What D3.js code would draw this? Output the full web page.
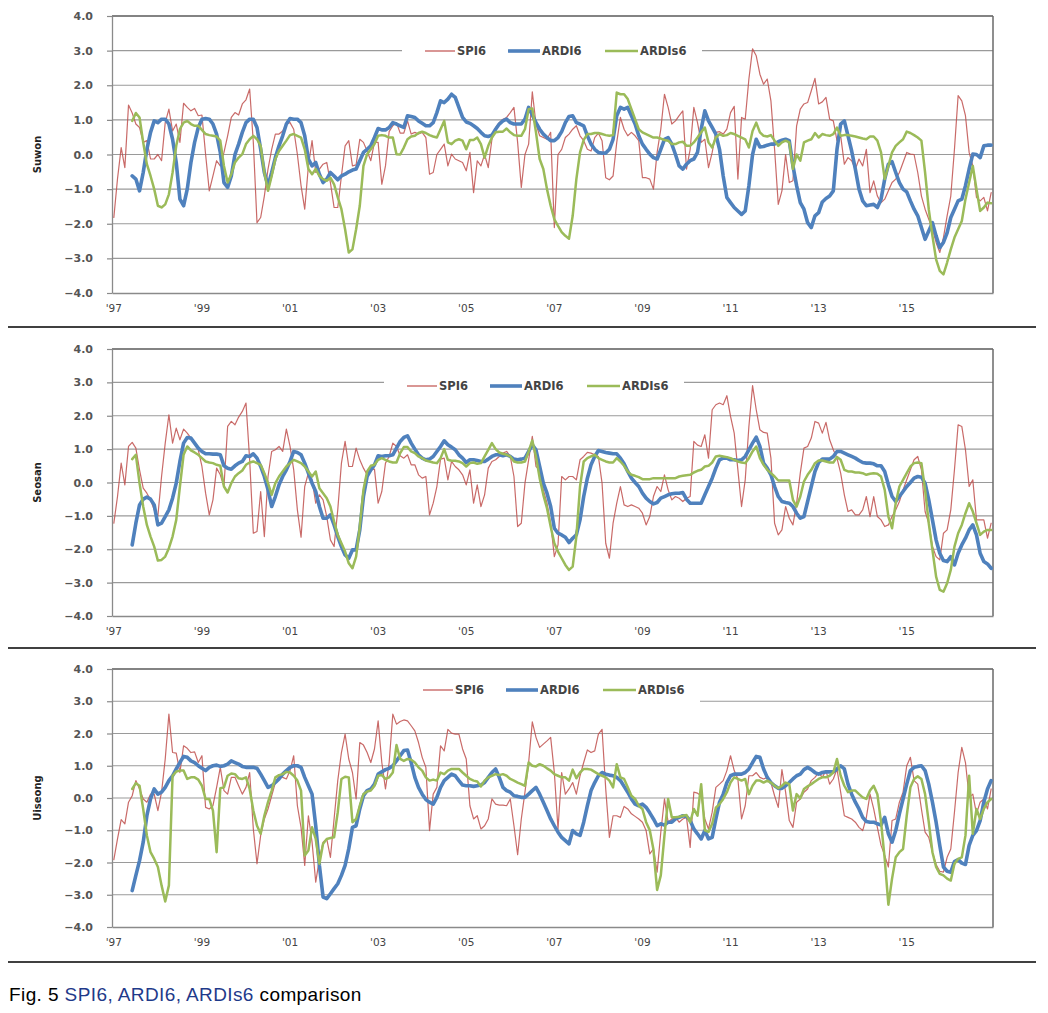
<!DOCTYPE html>
<html><head><meta charset="utf-8">
<script src="https://cdn.jsdelivr.net/npm/d3@7"></script>
<style>body{margin:0;background:#fff} svg{display:block}</style>
</head><body>
<svg id="c" width="1048" height="1013"></svg>
<script>
// ---------- DATA ----------
const stations = ["Suwon", "Seosan", "Uiseong"];
const seriesNames = ["SPI6", "ARDI6", "ARDIs6"];
const yTicks = [-4, -3, -2, -1, 0, 1, 2, 3, 4];
const xTickLabels = ["'97", "'99", "'01", "'03", "'05", "'07", "'09", "'11", "'13", "'15"];
const N = null;

// Monthly values, Jan 1997 – Dec 2016 (one row per year)
const suwonSPI6 = [
-1.82,-0.7,0.2,-0.38,1.43,1.2,0.88,0.78,0.35,0.4,-0.13,-0.13,
0,-0.18,0.92,1.31,0.68,0.88,0.35,1.48,1.36,1.26,1.33,1.12,
1.14,0,-1.05,-0.62,-0.18,-0.33,0.06,0.54,1.07,1.21,1.14,1.46,
1.58,1.89,0.35,-1.97,-1.82,-1.2,-0.42,0.15,0.59,0.59,0.68,0.88,
0.92,0.73,0,-0.9,-1.58,-0.33,0.4,-0.52,-0.42,-0.28,-0.23,-0.81,
-1.53,-1.53,-0.62,0.25,0.4,-0.33,-0.3,0.44,0.35,0.1,-0.18,0.35,
0.35,-0.86,-0.33,0.66,0.83,0.92,0.62,0.62,0.97,0.59,0.64,0.59,
0.64,0.49,-0.57,-0.52,0,0.15,0.3,-0.33,0.01,-0.13,-0.18,-0.23,
-0.47,0.06,-1.1,-0.18,-0.33,0,-0.38,0.44,0.78,0.92,1.02,1.07,
1.21,1.36,0.35,-0.95,0,0.3,1.81,0.88,0.54,0.49,0.44,0.64,
-2.11,0,0.15,0.49,0.59,0.73,0.83,0.54,0.4,0.15,0.1,0.49,
0.62,0.4,-0.67,-0.73,-0.62,0.35,1.07,0.73,0.54,0.64,0.54,0.4,
-0.67,-0.67,-0.71,-1.0,0.06,0.73,1.74,1.36,0.88,0.97,1.12,1.26,
-0.42,0.15,1.36,0.92,0.35,0.44,-0.38,0.06,0.64,0.66,0.59,0.73,
1.21,1.39,-0.71,1.07,1.02,2.18,3.05,2.85,2.32,2.03,2.18,1.55,
0.15,-1.44,-1.05,0,-0.81,-0.76,0.83,1.31,1.46,1.5,1.84,2.2,
1.46,1.52,1.65,1.02,0.97,0.4,0.54,-0.28,-0.09,-0.18,-0.42,-0.13,
-0.33,0.15,-1.1,-0.76,-1.2,-1.39,-1.29,-1.05,-0.81,-0.71,-0.52,-0.23,
0.06,0.01,0,-0.52,-1.2,-1.58,-1.87,-2.16,-2.54,-2.83,-2.4,-1.77,
-1.2,0.15,1.7,1.55,1.12,0.06,-0.33,-1.24,-1.34,-1.24,-1.63,-1.1];

const suwonARDI6 = [
N,N,N,N,N,-0.62,-0.71,-1.05,-0.52,0.15,0.64,0.97,
0.92,1.02,1.02,0.88,0.44,-0.23,-1.29,-1.48,-1.0,-0.23,0.35,0.78,
1.02,1.04,1.02,0.88,0.59,0.06,-0.81,-0.95,-0.62,0,0.3,0.64,
0.92,1.02,1.02,0.78,0.15,-0.52,-0.9,-0.52,-0.09,0.25,0.54,0.88,
1.04,1.02,1.02,0.92,0.54,-0.13,-0.33,-0.23,-0.57,-0.81,-0.71,-0.52,
-0.62,-0.73,-0.62,-0.57,-0.5,-0.45,-0.42,-0.18,0.06,0.15,0.25,0.49,
0.75,0.71,0.71,0.78,0.92,0.88,0.83,0.78,1.12,1.1,1.07,0.97,
0.9,0.83,0.83,0.92,1.21,1.55,1.5,1.6,1.74,1.65,1.36,1.07,
0.94,0.9,0.83,0.75,0.64,0.54,0.52,0.56,0.73,0.88,0.97,1.02,
0.92,0.88,0.88,0.88,1.02,1.36,1.14,0.92,0.73,0.59,0.49,0.4,
0.4,0.49,0.66,0.92,1.1,1.12,0.92,0.88,0.83,0.54,0.3,0.15,
0.06,0.04,0.04,0.15,0.44,1.12,1.36,1.31,1.36,1.12,0.88,0.54,
0.3,0.15,0.01,-0.09,-0.13,0.15,0.44,0.49,0.3,0,-0.33,-0.42,
-0.28,-0.18,-0.13,0.06,0.73,1.26,0.97,0.78,0.59,0.15,-0.62,-1.24,
-1.39,-1.53,-1.63,-1.73,-1.63,-0.9,0,0.44,0.22,0.23,0.27,0.3,
0.3,0.37,0.41,0.44,0.4,-0.33,-0.9,-1.39,-1.58,-1.97,-2.11,-1.77,
-1.68,-1.37,-1.27,-1.2,-1.05,0.15,0.88,0.97,0.54,0.1,-0.42,-1.0,
-1.34,-1.48,-1.46,-1.44,-1.53,-1.29,-0.71,-0.28,-0.21,-0.52,-0.81,-1.0,
-1.08,-1.34,-1.58,-1.77,-2.11,-2.45,-2.21,-1.97,-2.35,-2.69,-2.54,-2.26,
-1.82,-1.58,-1.34,-1.29,-0.9,-0.42,0.01,0,-0.09,0.25,0.27,0.27];

const suwonARDIs6 = [
N,N,N,N,N,0.97,1.2,1.07,0.35,-0.28,-0.62,-1.0,
-1.48,-1.53,-1.44,-1.15,-0.52,0.25,0.73,0.92,0.97,0.88,0.83,0.83,
0.71,0.59,0.56,0.54,0.52,0.4,-0.33,-0.81,-0.57,-0.23,-0.09,0.01,
0.3,0.44,0.54,0.44,0.25,-0.52,-1.05,-0.62,-0.13,0.1,0.25,0.4,
0.56,0.59,0.54,0.49,0.15,-0.42,-0.57,-0.42,-0.62,-0.71,-0.76,-0.67,
-0.86,-1.24,-1.58,-2.16,-2.83,-2.74,-2.16,-1.48,-0.33,0.01,0.15,0.3,
0.54,0.56,0.54,0.49,0.49,0.01,0,0.2,0.44,0.52,0.54,0.62,
0.66,0.62,0.56,0.52,0.49,0.73,0.97,0.35,0.3,0.4,0.44,0.4,
0.15,0.42,0.42,0.49,0.3,-0.09,0.25,0.49,0.64,0.66,0.66,0.75,
0.64,0.56,0.54,0.54,0.73,1.31,1.33,0.64,-0.13,-0.42,-1.0,-1.48,
-1.87,-2.06,-2.24,-2.35,-2.43,-1.77,-0.71,0.06,0.42,0.59,0.59,0.62,
0.62,0.59,0.56,0.54,0.56,1.79,1.74,1.74,1.6,1.31,1.02,0.73,
0.64,0.59,0.54,0.49,0.49,0.46,0.42,0.4,0.3,0.3,0.35,0.37,
0.25,0.25,0.35,0.49,0.64,0.78,0.35,0.2,0.49,0.59,0.54,0.56,
0.62,0.59,0.54,0.49,0.44,0.2,0.68,0.92,0.64,0.54,0.52,0.56,
0.4,0.25,0.35,0.4,0.35,-0.42,0,-0.18,0.35,0.4,0.44,0.62,
0.49,0.59,0.56,0.54,0.59,0.78,0.54,0.56,0.56,0.54,0.52,0.49,
0.46,0.44,0.52,0.52,0.4,0.06,-0.71,-0.33,0.06,0.25,0.35,0.44,
0.66,0.62,0.56,0.49,0.4,-0.52,-1.58,-2.35,-3.03,-3.36,-3.46,-3.12,
-2.74,-2.4,-2.16,-1.92,-1.29,-0.81,-0.33,-1.0,-1.63,-1.53,-1.39,-1.41];

const seosanSPI6 = [
-1.22,-0.42,0.58,-0.07,1.08,1.2,1.03,0.38,-0.17,-0.32,-0.52,-0.82,
-1.0,0.18,1.18,2.03,1.18,1.63,1.28,1.6,1.48,1.33,1.18,0.98,
0.48,-0.32,-0.97,-0.52,0.43,0.23,-0.12,1.68,1.83,1.73,1.96,2.13,
2.38,0.68,-1.52,-1.47,-0.27,-1.62,0.18,0.93,0.98,1.08,0.93,1.6,
1.08,0.38,-0.82,-1.64,-0.12,0.28,0.08,-0.62,-0.37,-0.52,-1.02,-1.72,
-1.92,-0.82,0.58,1.23,0.48,0.48,1.03,0.68,0.43,0.23,0.38,0.4,
-0.62,-0.27,0.58,0.78,1.18,1.08,0.8,0.73,0.83,0.53,0.53,0.23,
0.13,0.18,-0.97,-0.62,-0.12,0.7,0.73,0.08,0.63,0.48,0.38,0.23,
-0.07,0.38,-0.62,-0.07,-0.72,-0.37,0.43,0.63,0.68,0.78,0.88,0.93,
0.78,0.18,-1.32,-1.22,-0.02,0.68,1.38,0.48,0.38,-0.22,-0.62,-1.22,
-2.22,-1.87,0.18,0.08,0.18,0.18,0.08,0.68,0.78,0.9,0.88,0.83,
0.78,-0.02,-1.82,-2.27,-1.22,-0.62,-0.12,-0.67,-0.72,-0.67,-0.72,-0.77,
-0.92,-1.27,-1.02,-0.42,-0.12,-0.27,0.23,-0.22,-0.52,-0.42,-0.47,-0.57,
-0.47,-0.42,1.23,1.12,1.08,1.43,0.73,2.18,2.33,2.38,2.33,2.6,
1.98,1.48,0.38,-0.72,0.08,1.68,2.9,2.18,1.58,1.5,1.48,0.73,
-1.22,-1.57,-1.42,-0.72,-1.07,-1.27,-0.62,0.28,1.03,1.08,1.33,1.83,
1.78,1.48,1.8,1.28,0.98,0.73,0.28,-0.37,-0.87,-0.82,-0.97,-0.97,
-0.82,-0.42,-1.02,-0.42,-1.02,-1.12,-1.32,-1.27,-1.02,-0.82,-0.57,-0.22,
0.08,0.38,0.68,0.78,0.38,-0.87,-1.22,-1.92,-2.22,-2.32,-1.52,-1.42,
-0.82,0.38,1.73,1.68,0.98,-0.12,0.08,-1.12,-1.12,-1.12,-1.67,-1.22];

const seosanARDI6 = [
N,N,N,N,N,-1.87,-1.22,-0.67,-0.5,-0.44,-0.5,-0.67,
-1.27,-1.22,-1.02,-0.82,-0.47,-0.02,0.63,1.18,1.35,1.33,1.18,1.03,
0.93,0.86,0.86,0.85,0.85,0.83,0.5,0.43,0.4,0.5,0.58,0.63,
0.8,0.78,0.86,0.73,0.48,0.18,-0.22,-0.72,-0.42,-0.07,0.18,0.38,
0.63,0.93,0.9,0.83,0.58,0.28,-0.02,-0.27,-0.72,-1.07,-1.07,-0.97,
-1.27,-1.62,-1.92,-2.17,-2.27,-2.02,-2.02,-1.42,-0.42,0.18,0.38,0.53,
0.8,0.78,0.8,0.8,0.83,1.03,1.23,1.35,1.4,1.18,1.0,0.83,
0.73,0.68,0.7,0.78,0.93,1.08,1.25,1.13,1.06,0.98,0.83,0.73,
0.6,0.68,0.68,0.66,0.63,0.63,0.7,0.78,0.83,0.83,0.8,0.83,
0.78,0.7,0.68,0.7,0.73,0.93,1.13,0.98,0.48,-0.02,-0.32,-0.72,
-1.37,-1.52,-1.57,-1.64,-1.8,-1.67,-1.57,-1.12,-0.42,0.13,0.53,0.78,
0.96,0.93,0.9,0.88,0.86,0.86,0.73,0.56,0.33,0.13,0,-0.12,
-0.32,-0.47,-0.57,-0.64,-0.6,-0.47,-0.42,-0.37,-0.34,-0.32,-0.32,-0.3,
-0.5,-0.62,-0.62,-0.62,-0.62,-0.37,-0.12,0.13,0.43,0.68,0.73,0.73,
0.68,0.68,0.66,0.68,0.78,0.98,1.18,1.36,1.08,0.58,0.43,0.23,
-0.12,-0.42,-0.57,-0.6,-0.62,-0.72,-0.92,-1.07,-1.02,-0.57,-0.12,0.33,
0.6,0.7,0.7,0.7,0.78,0.93,0.93,0.88,0.83,0.78,0.73,0.66,
0.6,0.58,0.58,0.56,0.5,0.5,0.33,-0.07,-0.42,-0.57,-0.42,-0.27,
-0.12,0,0.13,0.18,0.16,-0.02,-0.52,-1.12,-1.72,-2.12,-2.34,-2.37,
-2.22,-2.47,-2.12,-1.87,-1.67,-1.42,-1.27,-1.57,-2.12,-2.37,-2.44,-2.57];

const seosanARDIs6 = [
N,N,N,N,N,0.7,0.83,-0.02,-0.72,-1.27,-1.62,-1.92,
-2.34,-2.32,-2.22,-1.97,-1.62,-1.12,-0.12,0.83,1.08,0.96,0.9,0.83,
0.73,0.63,0.6,0.58,0.53,0.5,-0.12,-0.3,-0.02,0.18,0.28,0.36,
0.53,0.6,0.63,0.58,0.53,0.28,-0.02,-0.37,-0.02,0.18,0.33,0.48,
0.58,0.68,0.63,0.58,0.48,0.33,0.18,0.33,-0.17,-0.32,-0.47,-0.72,
-1.17,-1.57,-1.82,-2.07,-2.42,-2.57,-2.22,-1.32,-0.22,0.33,0.5,0.53,
0.68,0.73,0.68,0.63,0.6,0.6,0.88,1.06,1.06,0.93,0.88,0.78,
0.73,0.66,0.63,0.6,0.58,0.73,1.0,0.68,0.65,0.65,0.63,0.58,
0.48,0.58,0.6,0.56,0.58,0.78,0.98,1.18,1.0,0.9,0.86,0.83,
0.78,0.63,0.6,0.6,0.63,0.93,1.26,0.78,0.13,-0.37,-0.77,-1.32,
-1.82,-2.07,-2.27,-2.47,-2.62,-2.52,-1.62,-0.12,0.63,0.73,0.78,0.83,
0.73,0.68,0.63,0.6,0.6,0.73,0.63,0.5,0.33,0.23,0.2,0.16,
0.1,0.1,0.1,0.13,0.13,0.13,0.13,0.13,0.13,0.13,0.18,0.2,
0.22,0.23,0.3,0.35,0.38,0.48,0.5,0.6,0.78,0.8,0.78,0.76,
0.73,0.68,0.63,0.6,0.58,0.73,0.93,1.08,0.73,0.53,0.38,0.28,
0.18,0.06,0.06,0.06,0.06,-0.52,-0.72,-0.42,0.03,0.23,0.38,0.58,
0.66,0.66,0.63,0.6,0.6,0.76,0.68,0.38,0.33,0.33,0.3,0.3,
0.28,0.23,0.26,0.28,0.26,0.18,-0.22,-1.02,-1.37,-0.62,-0.12,0.08,
0.28,0.48,0.58,0.6,0.58,-0.22,-1.22,-2.02,-2.82,-3.22,-3.27,-3.02,
-2.62,-1.92,-1.52,-1.27,-0.92,-0.62,-0.87,-1.22,-1.57,-1.47,-1.42,-1.42];

const uiseongSPI6 = [
-1.91,-1.27,-0.67,-0.8,-0.13,0.07,0.54,0.28,-0.03,-0.13,0.12,0.12,
-0.39,0.18,1.21,2.6,1.41,1.39,0.79,1.62,1.54,1.41,1.43,1.1,
1.31,-0.29,-0.34,-0.24,0.33,0.95,0.23,0.12,0.64,0.64,0.38,0.12,
0.33,0.79,-0.96,-2.04,-1.16,-0.65,-0.34,0.07,0.48,0.69,0.64,0.59,
0.85,1.31,-0.24,-0.91,-2.09,-0.55,-1.37,-2.61,-1.89,-1.37,-1.27,-1.84,
-0.65,0.54,1.41,1.98,1.21,0.79,-0.03,1.72,1.64,1.41,1.1,1.52,
2.39,1.1,0.28,1.1,2.6,2.29,2.37,2.42,2.39,2.24,2.08,1.72,
1.26,0.95,-1.01,0.12,0.33,1.62,1.46,2.13,2.01,1.98,1.98,1.52,
1.21,-0.24,-0.65,-0.55,-0.96,-0.86,-0.65,-0.03,-0.19,-0.22,-0.22,-0.24,
-0.03,-0.86,-1.76,-0.65,0.18,1.1,2.36,1.88,1.57,1.67,1.77,1.88,
0.79,-0.96,0.79,0.12,0.28,0.48,0.12,0.69,1.1,1.49,1.41,1.46,
1.98,2.13,0.28,-1.22,-0.55,-0.55,-0.6,-0.26,-0.34,-0.49,-0.57,-0.65,
-0.75,-1.01,-1.73,-1.58,-2.3,-1.06,-0.03,-0.75,-0.65,-0.6,-0.75,-0.65,
-0.6,-1.53,0.18,0.15,0.07,-0.65,-0.96,-0.44,0.33,0.43,0.54,0.85,
1.31,0.85,0.59,-0.65,-0.24,0.69,0.69,0.79,0.64,0.59,0.64,0.48,
0.07,-0.29,0.88,0.18,-0.7,-0.91,-0.13,-0.03,0.18,0.28,0.54,0.64,
0.79,0.64,0.85,0.43,0.59,0.9,0.18,-0.55,-0.6,-0.65,-0.75,-0.91,
-1.01,-0.6,0.12,-0.34,-0.91,-1.47,-1.78,-2.14,-0.7,-0.65,-0.13,0.18,
1.0,1.26,0.54,0.43,-0.34,-1.06,-1.22,-1.68,-2.06,-2.27,-2.3,-1.84,
-1.58,-0.44,0.79,1.57,1.1,0.02,0.12,-0.49,-0.13,-0.03,-0.34,0.28];

const uiseongARDI6 = [
N,N,N,N,N,-2.87,-2.4,-1.94,-1.37,-0.55,-0.03,0.28,
0.12,0.18,0.33,0.54,0.69,0.9,1.1,1.29,1.26,1.15,1.1,1.0,
0.92,0.85,0.95,1.0,1.02,0.98,1.0,1.05,1.15,1.1,1.05,0.98,
0.95,0.95,0.95,0.92,0.74,0.54,0.33,0.38,0.48,0.59,0.74,0.85,
0.95,1.0,1.0,0.95,0.64,0.38,0.12,-0.86,-2.09,-3.07,-3.12,-2.97,
-2.81,-2.66,-2.4,-2.09,-1.57,-0.91,-0.86,-0.34,0.07,0.23,0.28,0.43,
0.74,0.81,0.88,0.92,1.0,1.15,1.31,1.47,1.49,1.1,0.64,0.33,
0.12,-0.05,-0.13,-0.19,0.02,0.33,0.54,0.64,0.74,0.69,0.54,0.4,
0.38,0.38,0.36,0.38,0.4,0.48,0.64,0.79,0.9,0.64,0.33,0.23,
0.18,0.07,0.05,0.02,0.02,0.12,0.23,0.33,0.12,-0.13,-0.39,-0.65,
-0.86,-1.06,-1.22,-1.32,-1.42,-1.01,-1.11,-1.16,-0.75,-0.24,0.23,0.48,
0.69,0.79,0.74,0.71,0.69,0.64,0.54,0.36,0.18,-0.03,-0.19,-0.24,
-0.19,-0.29,-0.46,-0.65,-0.86,-0.8,-0.84,-0.75,-0.75,-0.65,-0.6,-0.55,
-0.57,-0.7,-0.96,-1.11,-1.27,-1.01,-1.27,-1.22,-0.65,-0.13,0.12,0.48,
0.69,0.74,0.74,0.74,0.79,0.9,1.1,1.29,1.26,0.9,0.64,0.48,
0.38,0.3,0.3,0.38,0.48,0.59,0.69,0.74,0.88,0.95,0.88,0.79,
0.74,0.79,0.81,0.81,0.81,0.9,1.0,0.9,0.43,0.12,-0.13,-0.34,
-0.6,-0.73,-0.75,-0.75,-0.8,-0.84,-0.6,-1.11,-1.37,-1.01,-0.49,-0.03,
0.43,0.85,0.95,0.98,1.0,0.85,0.43,-0.13,-0.75,-1.47,-2.14,-2.27,
-2.3,-1.97,-1.91,-2.02,-2.06,-1.47,-1.16,-1.01,-0.7,-0.13,0.28,0.54];

const uiseongARDIs6 = [
N,N,N,N,N,0.28,0.46,0.38,-0.34,-1.16,-1.68,-1.89,
-2.14,-2.71,-3.21,-2.71,0.69,0.82,0.85,0.85,0.59,0.64,0.64,0.57,
0.38,-0.03,-0.03,-0.39,-1.68,0.3,0.33,0.69,0.76,0.74,0.61,0.59,
0.64,0.28,-0.39,-0.86,-1.11,-0.55,-0.13,0.23,0.64,0.71,0.74,0.81,
0.79,0.69,0.54,0.23,-1.78,-1.63,-0.91,-1.27,-2.04,-1.42,-1.27,-1.24,
-1.22,-0.44,0.59,0.66,0.64,-0.75,-0.65,-0.24,0.12,0.2,0.23,0.38,
0.69,0.71,0.59,0.64,0.79,1.64,1.21,1.15,1.21,1.19,1.1,0.95,
0.85,0.64,0.54,0.57,0.54,0.79,0.74,0.85,0.9,0.9,0.9,0.79,
0.69,0.59,0.54,0.51,0.36,0.54,0.64,0.69,0.74,0.71,0.74,0.69,
0.59,0.54,0.48,0.43,0.38,1.1,1.0,0.98,1.05,1.0,0.92,0.85,
0.74,0.69,0.64,0.64,0.54,0.88,0.61,0.79,0.9,0.9,0.88,0.81,
0.74,0.69,0.64,0.54,0.33,1.05,0.64,0.59,0.33,0.07,-0.03,-0.24,
-0.34,-0.75,-1.0,-1.6,-2.85,-2.4,-1.16,-0.03,-0.6,-0.6,-0.58,-0.55,
-0.53,-0.75,-0.34,-0.55,0.43,-1.0,-1.05,-0.8,-0.3,-0.19,-0.03,0.18,
0.48,0.64,0.59,0.54,0.59,0.12,0.38,0.54,0.54,0.48,0.54,0.48,
0.38,0.3,0.38,0.48,0.43,-0.39,0.12,-0.01,0.28,0.36,0.43,0.51,
0.59,0.64,0.64,0.69,0.79,1.21,0.69,0.38,0.18,0.23,0.23,0.12,
0.02,-0.03,0.23,0.38,0.12,-0.75,-1.89,-3.31,-2.5,-1.84,-1.68,-1.58,
-0.55,0.33,0.59,0.67,0.59,0.12,-0.75,-1.68,-2.14,-2.35,-2.4,-2.5,
-2.56,-2.04,-1.89,-1.84,-1.16,0.69,-1.11,-0.34,-0.65,-0.34,-0.13,-0.03];

// ---------- LAYOUT / STYLE ----------
const W = 1048, H = 1013;
const plotLeft = 112, plotRight = 993;
const panels = [
  { top: 16,  bottom: 293, legendX: 425, legendY: 51,  sep: 327 },
  { top: 349, bottom: 616, legendX: 407, legendY: 386, sep: 648 },
  { top: 669, bottom: 927, legendX: 423, legendY: 690, sep: 962 }
];
const panelData = [
  [suwonSPI6, suwonARDI6, suwonARDIs6],
  [seosanSPI6, seosanARDI6, seosanARDIs6],
  [uiseongSPI6, uiseongARDI6, uiseongARDIs6]
];
const colors = ["#c0504d", "#4f81bd", "#9bbb59"];
const widths = [1.2, 3.6, 2.5];
const legendOffsets = [0, 83, 180];
const sampleLen = [30, 32, 33];

const svg = d3.select("#c");
svg.append("rect").attr("width", W).attr("height", H).attr("fill", "#fff");

const x = d3.scaleBand().domain(d3.range(240)).range([plotLeft, plotRight]);
const xc = i => x(i) + x.bandwidth() / 2;

panels.forEach((p, k) => {
  const y = d3.scaleLinear().domain([-4, 4]).range([p.bottom, p.top]);
  const g = svg.append("g");

  // gridlines
  g.selectAll("line.grid").data(yTicks.filter(v => v > -4)).join("line")
    .attr("x1", plotLeft).attr("x2", plotRight)
    .attr("y1", d => y(d)).attr("y2", d => y(d))
    .attr("stroke", d => d === 4 ? "#5a5a5a" : "#9a9a9a")
    .attr("stroke-width", d => d === 4 ? 1.6 : 1.2);

  // right border
  g.append("line").attr("x1", plotRight).attr("x2", plotRight)
    .attr("y1", y(4)).attr("y2", y(-4)).attr("stroke", "#6a6a6a").attr("stroke-width", 1.5);

  // y axis
  const yAxis = d3.axisLeft(y).tickValues(yTicks).tickFormat(d3.format(".1f"))
    .tickSize(5).tickSizeOuter(0).tickPadding(14);
  const ya = g.append("g").attr("transform", `translate(${plotLeft},0)`).call(yAxis);
  ya.select(".domain").attr("stroke", "#8a8a8a").attr("stroke-width", 1.3);
  ya.selectAll(".tick line").attr("stroke", "#8a8a8a").attr("stroke-width", 1.2);
  ya.selectAll(".tick text").attr("font-family", "DejaVu Sans").attr("font-size", 11)
    .attr("font-weight", "bold").attr("fill", "#555");

  // x axis
  const xAxis = d3.axisBottom(x).tickValues(d3.range(0, 240, 24))
    .tickFormat((d, i) => xTickLabels[i]).tickSize(0).tickPadding(12);
  const xa = g.append("g").attr("transform", `translate(0,${p.bottom})`).call(xAxis);
  xa.select(".domain").attr("stroke", "#8a8a8a").attr("stroke-width", 1.3);
  xa.selectAll(".tick text").attr("font-family", "DejaVu Sans").attr("font-size", 10.5)
    .attr("fill", "#444");

  // y title
  g.append("text").attr("transform", `translate(41,${y(0)}) rotate(-90)`)
    .attr("text-anchor", "middle").attr("font-family", "DejaVu Sans")
    .attr("font-size", 10).attr("font-weight", "bold").attr("fill", "#222")
    .text(stations[k]);

  // series
  const line = d3.line().defined(d => d != null).x((d, i) => xc(i)).y(d => y(d));
  panelData[k].forEach((arr, s) => {
    g.append("path").datum(arr).attr("d", line)
      .attr("fill", "none").attr("stroke", colors[s]).attr("stroke-width", widths[s])
      .attr("stroke-linejoin", "round").attr("stroke-linecap", "round")
      .attr("stroke-opacity", s === 0 ? 0.85 : 1);
  });

  // legend
  const g3 = y(3);
  const y0 = Math.min(g3, p.legendY) - 8, y1 = Math.max(g3, p.legendY) + 7;
  const lg = g.append("g");
  lg.append("rect").attr("x", p.legendX - 23).attr("y", y0).attr("width", 300).attr("height", y1 - y0)
    .attr("fill", "#fff");
  seriesNames.forEach((nm, s) => {
    const lx = p.legendX + legendOffsets[s];
    lg.append("line").attr("x1", lx).attr("x2", lx + sampleLen[s])
      .attr("y1", p.legendY).attr("y2", p.legendY)
      .attr("stroke", colors[s]).attr("stroke-width", widths[s]);
    lg.append("text").attr("x", lx + sampleLen[s] + 2).attr("y", p.legendY + 4)
      .attr("font-family", "DejaVu Sans").attr("font-size", 11.5).attr("font-weight", "bold")
      .attr("fill", "#444").text(nm);
  });

  // separator
  svg.append("line").attr("x1", 8).attr("x2", 1036).attr("y1", p.sep).attr("y2", p.sep)
    .attr("stroke", "#000").attr("stroke-width", 1.5);
});

// caption
const cap = svg.append("text").attr("x", 9).attr("y", 1001)
  .attr("font-family", "Liberation Sans").attr("font-size", 19).attr("letter-spacing", 0.4);
cap.append("tspan").attr("fill", "#000").text("Fig. 5 ");
cap.append("tspan").attr("fill", "#1f3a8a").text("SPI6, ARDI6, ARDIs6");
cap.append("tspan").attr("fill", "#000").text(" comparison");
</script>
</body></html>
